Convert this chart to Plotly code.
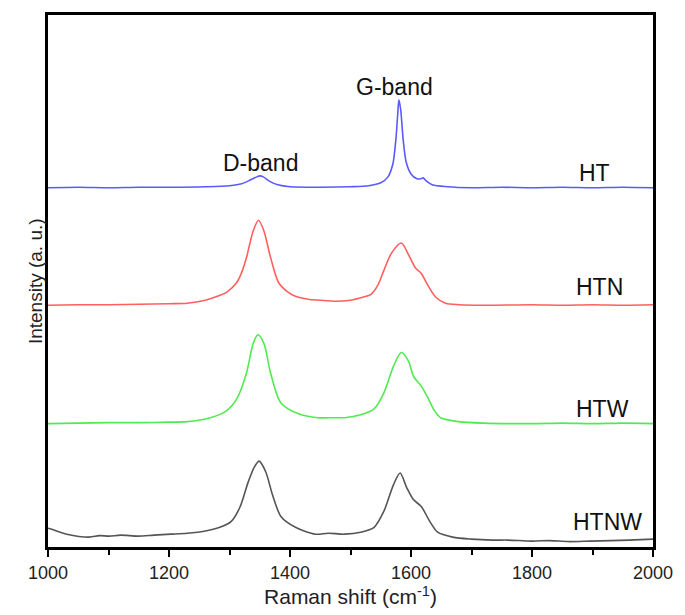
import plotly.graph_objects as go

# Raman spectra (intensity in arbitrary, stacked units)
ht_x = [1000, 1050, 1100, 1150, 1200, 1260, 1300, 1320, 1335, 1345, 1350, 1356, 1365, 1380, 1400,
        1450, 1500, 1530, 1550, 1562, 1570, 1575, 1578, 1580, 1583, 1587, 1592, 1600, 1610, 1616,
        1620, 1625, 1635, 1660, 1700, 1750, 1800, 1850, 1900, 1950, 2000]
ht_y = [364, 364.5, 364, 364.5, 364.5, 365, 366, 368, 372, 375, 376, 375, 371, 367, 365,
        364.5, 365, 366, 369, 375, 388, 413, 438, 453, 443, 413, 390, 378, 373, 373,
        374, 371, 367, 365, 364, 364.5, 364, 364.5, 364, 364.5, 364]

htn_x = [1000, 1050, 1100, 1150, 1200, 1230, 1260, 1280, 1295, 1312, 1320, 1328, 1339, 1348, 1357,
         1368, 1381, 1395, 1409, 1430, 1450, 1475, 1500, 1520, 1534, 1545, 1555, 1568, 1584, 1596,
         1607, 1617, 1628, 1641, 1657, 1680, 1720, 1800, 1850, 1900, 1950, 2000]
htn_y = [245, 245.5, 245.5, 246, 246.5, 247, 250, 254, 258, 268, 278, 293, 320, 331, 320,
         293, 268, 259, 254, 251, 250, 249, 250, 253, 256, 265, 280, 298, 308, 296,
         283, 277, 265, 253, 247, 245.5, 245, 245.5, 245, 245.5, 245, 245.5]

htw_x = [1000, 1050, 1100, 1150, 1200, 1230, 1268, 1295, 1312, 1328, 1339, 1347, 1357, 1368, 1385,
         1414, 1446, 1474, 1490, 1517, 1539, 1555, 1571, 1584, 1596, 1604, 1617, 1628, 1639, 1649,
         1679, 1720, 1800, 1850, 1900, 1950, 2000]
htw_y = [125, 125.5, 126, 126, 126.5, 127, 131, 138, 150, 176, 206, 215, 206, 176, 146,
         135, 131, 131, 131, 134, 140, 156, 183, 197, 188, 173, 163, 151, 138, 131,
         127, 125.5, 125, 125.5, 125, 125.5, 125]

htnw_x = [1000, 1006, 1031, 1068, 1085, 1101, 1120, 1149, 1175, 1203, 1230, 1258, 1284, 1303, 1317,
          1331, 1341, 1349, 1360, 1371, 1385, 1409, 1442, 1463, 1490, 1517, 1539, 1555, 1571, 1582,
          1593, 1604, 1617, 1631, 1644, 1669, 1700, 1734, 1760, 1800, 1830, 1860, 1896, 1930, 1960, 2000]
htnw_y = [19, 18, 13, 10, 11.5, 11, 12, 11, 12, 13, 14, 16, 20, 26, 40,
          66, 81, 87, 76, 53, 31, 20, 13, 14, 13, 15, 20, 36, 63, 75,
          60, 48, 41, 26, 15, 10, 8, 7, 7, 6, 6.5, 5.5, 6, 6.5, 7, 8]

series_names = ["HT", "HTN", "HTW", "HTNW"]
series_colors = ["rgb(90,90,255)", "rgb(255,95,95)", "rgb(80,235,80)", "rgb(85,85,85)"]
series_x = [ht_x, htn_x, htw_x, htnw_x]
series_y = [ht_y, htn_y, htw_y, htnw_y]

# label positions (data coords)
label_x = [1904, 1911, 1917, 1924]
label_y = [379, 263, 140, 25]
band_labels = ["D-band", "G-band"]
band_x = [1352, 1573]
band_y = [389, 466]

fig = go.Figure()
for name, col, xs, ys in zip(series_names, series_colors, series_x, series_y):
    fig.add_trace(go.Scatter(x=xs, y=ys, mode="lines", name=name,
                             line=dict(color=col, width=1.6, smoothing=0.8), line_shape="spline"))

font_main = "Liberation Sans, Arial, sans-serif"
for name, lx, ly in zip(series_names, label_x, label_y):
    fig.add_annotation(x=lx, y=ly, text=name, showarrow=False,
                       font=dict(family=font_main, size=23, color="#111"))
for name, bx, by in zip(band_labels, band_x, band_y):
    fig.add_annotation(x=bx, y=by, text=name, showarrow=False,
                       font=dict(family=font_main, size=23, color="#111"))

fig.add_annotation(xref="paper", yref="paper", x=-0.042, y=0.5,
                   text="Intensity (a. u.)", textangle=-90, showarrow=False,
                   font=dict(family=font_main, size=19, color="#222"))

fig.update_layout(
    width=685, height=615,
    margin=dict(l=48, r=21, t=14, b=62),
    plot_bgcolor="white", paper_bgcolor="white",
    showlegend=False,
    font=dict(family=font_main, color="#222"),
    xaxis=dict(range=[1000, 2000], dtick=200, tick0=1000, showgrid=False, zeroline=False,
               showline=True, linecolor="black", linewidth=3, mirror=True,
               ticks="outside", ticklen=7, tickwidth=2, tickcolor="black",
               minor=dict(dtick=100, ticks="outside", ticklen=5, tickwidth=2, tickcolor="black"),
               tickfont=dict(size=18, color="#222"),
               title=dict(text="Raman shift (cm<sup>-1</sup>)", font=dict(size=21, color="#222"),
                          standoff=6)),
    yaxis=dict(range=[0, 539], showgrid=False, zeroline=False, showticklabels=False,
               showline=True, linecolor="black", linewidth=3, mirror=True, ticks=""),
)

fig.write_html("out.html")
